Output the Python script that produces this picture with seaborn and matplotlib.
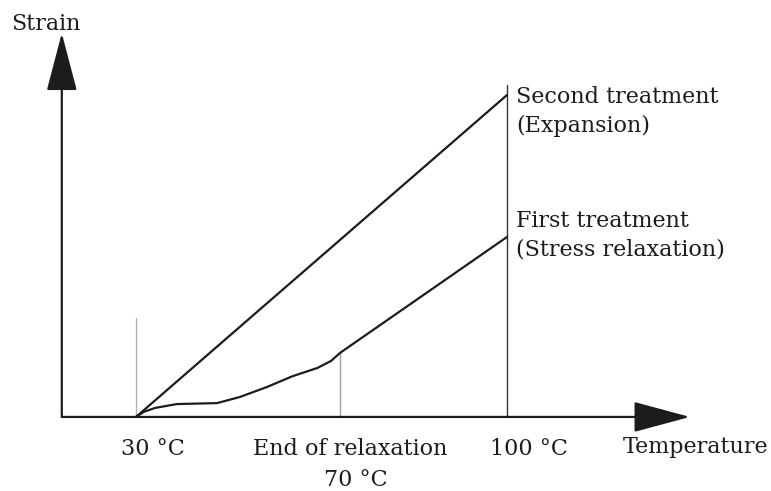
import pandas as pd
import seaborn as sns
import matplotlib.pyplot as plt

# --- Data (schematic) ---
# Temperature (deg C) and strain (arbitrary units) for each treatment
second_temp = [30, 100]
second_strain = [0.0, 10.0]

first_temp = [30, 31.5, 33.6, 37.7, 45.3, 49.6, 54.7, 59.6, 64.2, 66.8, 68.5, 100]
first_strain = [0.0, 0.16, 0.28, 0.40, 0.43, 0.62, 0.93, 1.27, 1.52, 1.74, 1.99, 5.59]

# Reference marks on the temperature axis
mark_temps = [30, 68.5, 100]
mark_heights = [3.07, 1.99, 10.3]
mark_colors = ['#b0b0b0', '#a0a0a0', '#333333']

tick_label_x = [33.2, 70.4, 104.2]
tick_label_row1 = ['30 \u00b0C', 'End of relaxation', '100 \u00b0C']
row2_label = '70 \u00b0C'
row2_x = 71.5

series_lines = ['Second treatment', '(Expansion)', 'First treatment', '(Stress relaxation)']
series_line_y = [9.75, 8.85, 5.90, 5.0]

INK = '#1c1c1c'

df = pd.concat([
    pd.DataFrame({'Temperature': second_temp, 'Strain': second_strain, 'Series': 'second'}),
    pd.DataFrame({'Temperature': first_temp, 'Strain': first_strain, 'Series': 'first'}),
], ignore_index=True)

sns.set_style('white')
plt.rcParams['font.family'] = ['DejaVu Serif']

fig = plt.figure(figsize=(7.71, 4.91), dpi=100)
ax = fig.add_axes([0, 0, 1, 1])

sns.lineplot(data=df, x='Temperature', y='Strain', hue='Series', sort=False,
             palette={'second': INK, 'first': INK}, linewidth=1.6,
             legend=False, ax=ax, estimator=None)

# thin vertical guide lines
for t, h, c in zip(mark_temps, mark_heights, mark_colors):
    ax.plot([t, t], [0, h], color=c, lw=1.0, zorder=1)

# axes with arrow heads
x0, y0 = 16.0, 0.0
ax.annotate('', xy=(134.5, y0), xytext=(x0, y0),
            arrowprops=dict(arrowstyle='-|>,head_length=36,head_width=9.7',
                            mutation_scale=1, lw=1.6, color=INK,
                            shrinkA=0, shrinkB=0))
ax.annotate('', xy=(x0, 11.92), xytext=(x0, y0),
            arrowprops=dict(arrowstyle='-|>,head_length=37,head_width=9.7',
                            mutation_scale=1, lw=1.6, color=INK,
                            shrinkA=0, shrinkB=0))

fs = 16
ax.text(13.0, 12.02, 'Strain', ha='center', va='baseline', fontsize=fs, color=INK)
ax.text(135.5, -1.12, 'Temperature', ha='center', va='baseline', fontsize=fs, color=INK)

for x, lab in zip(tick_label_x, tick_label_row1):
    ax.text(x, -1.18, lab, ha='center', va='baseline', fontsize=fs, color=INK)
ax.text(row2_x, -2.14, row2_label, ha='center', va='baseline', fontsize=fs, color=INK)

for y, line in zip(series_line_y, series_lines):
    ax.text(101.7, y, line, ha='left', va='baseline', fontsize=fs, color=INK)

ax.set_xlim(4.34, 149.8)
ax.set_ylim(-2.30, 12.95)
ax.axis('off')

fig.savefig('out.png', dpi=100)
